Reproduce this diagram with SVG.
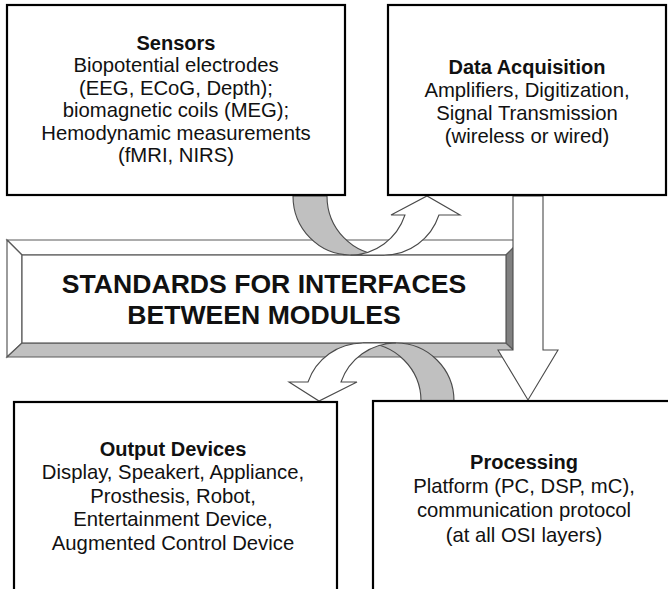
<svg xmlns="http://www.w3.org/2000/svg" width="668" height="589" viewBox="0 0 668 589">
<style>
.box{fill:#fff;stroke:#000;stroke-width:2.2}
.bev{stroke:#5a5a5a;stroke-width:1.2;stroke-linejoin:miter}
.arr{fill:#fff;stroke:#4a4a4a;stroke-width:1.1;stroke-linejoin:miter}
.back{fill:#c0c0c0;stroke:#4a4a4a;stroke-width:1.1}
text{font-family:"Liberation Sans",Arial,sans-serif;fill:#111;text-anchor:middle}
.t{font-size:20.3px}
.h{font-size:20px;font-weight:bold}
.big{font-size:26.6px;font-weight:bold}
</style>
<rect width="668" height="589" fill="#fff"/>
<g id="standards">
<polygon class="bev" fill="#fff" points="7,240 521,240 506,255 22,255"/>
<polygon class="bev" fill="#fff" points="7,240 22,255 22,343 7,357"/>
<polygon class="bev" fill="#c0c0c0" points="7,357 22,343 506,343 521,357"/>
<polygon class="bev" fill="#808080" points="521,240 506,255 506,343 521,357"/>
<rect class="bev" fill="#fff" x="22" y="255" width="484" height="88"/>
<text class="big" x="264" y="293">STANDARDS FOR INTERFACES</text>
<text class="big" x="264" y="324">BETWEEN MODULES</text>
</g>
<g id="connectors">
<path class="back" d="M293,196 A57.5,59 0 0 0 350.5,255 L384.5,255 A57.5,59 0 0 1 327,196 Z"/>
<path class="arr" d="M350.5,255 A57.5,59 0 0 0 404.95,215 L391,215 L427,196 L460,215 L438.95,215 A57.5,59 0 0 1 384.5,255 Z"/>
<path class="back" d="M454,401 A58.1,58 0 0 0 395.9,343 L362.9,343 A58.1,58 0 0 1 421,401 Z"/>
<path class="arr" d="M395.9,343 A58.1,58 0 0 0 341,382 L357,382 L319,401 L289,382 L308,382 A58.1,58 0 0 1 362.9,343 Z"/>
<path class="arr" d="M513,196 L543,196 L543,350 L558,350 L528,400 L498,350 L513,350 Z"/>
</g>
<g id="sensors">
<rect class="box" x="7" y="5" width="338" height="190"/>
<text class="h" x="176" y="49.5">Sensors</text>
<text class="t" x="176" y="72">Biopotential electrodes</text>
<text class="t" x="176" y="94.5">(EEG, ECoG, Depth);</text>
<text class="t" x="176" y="117">biomagnetic coils (MEG);</text>
<text class="t" x="176" y="139.5">Hemodynamic measurements</text>
<text class="t" x="176" y="162">(fMRI, NIRS)</text>
</g>
<g id="data-acquisition">
<rect class="box" x="388" y="5" width="278" height="190"/>
<text class="h" x="527" y="74">Data Acquisition</text>
<text class="t" x="527" y="97">Amplifiers, Digitization,</text>
<text class="t" x="527" y="120">Signal Transmission</text>
<text class="t" x="527" y="143">(wireless or wired)</text>
</g>
<g id="output-devices">
<rect class="box" x="14" y="402" width="323" height="200"/>
<text class="h" x="173" y="455.5">Output Devices</text>
<text class="t" x="173" y="479">Display, Speakert, Appliance,</text>
<text class="t" x="173" y="502.5">Prosthesis, Robot,</text>
<text class="t" x="173" y="526">Entertainment Device,</text>
<text class="t" x="173" y="550">Augmented Control Device</text>
</g>
<g id="processing">
<rect class="box" x="373" y="401" width="310" height="200"/>
<text class="h" x="524" y="469">Processing</text>
<text class="t" x="524" y="493">Platform (PC, DSP, mC),</text>
<text class="t" x="524" y="517">communication protocol</text>
<text class="t" x="524" y="541.5">(at all OSI layers)</text>
</g>
</svg>
